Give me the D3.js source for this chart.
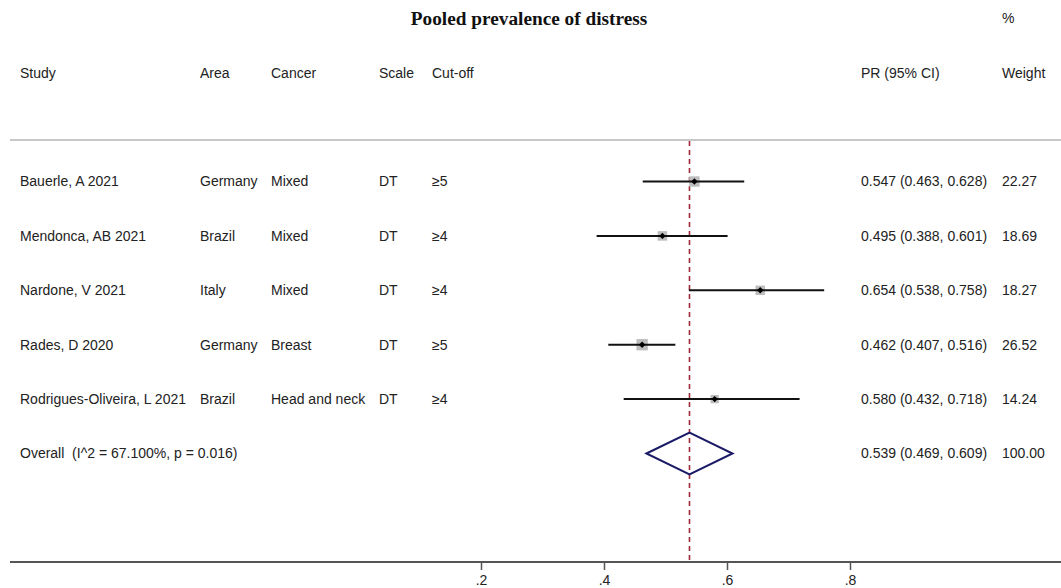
<!DOCTYPE html>
<html>
<head>
<meta charset="utf-8">
<script src="https://cdn.jsdelivr.net/npm/d3@7"></script>
<style>
  html, body { margin: 0; padding: 0; background: #fff; }
  svg text { font-family: "Liberation Sans", Arial, Helvetica, sans-serif; fill: #222; white-space: pre; }
</style>
</head>
<body>
<svg id="chart" width="1061" height="588"></svg>
<script>
// ---- data ----
const studies = ["Bauerle, A 2021", "Mendonca, AB 2021", "Nardone, V 2021", "Rades, D 2020", "Rodrigues-Oliveira, L 2021"];
const areas   = ["Germany", "Brazil", "Italy", "Germany", "Brazil"];
const cancers = ["Mixed", "Mixed", "Mixed", "Breast", "Head and neck"];
const scales  = ["DT", "DT", "DT", "DT", "DT"];
const cutoffs = ["≥5", "≥4", "≥4", "≥5", "≥4"];
const pr      = [0.547, 0.495, 0.654, 0.462, 0.580];
const lower   = [0.463, 0.388, 0.538, 0.407, 0.432];
const upper   = [0.628, 0.601, 0.758, 0.516, 0.718];
const weights = [22.27, 18.69, 18.27, 26.52, 14.24];
const overall = { label: "Overall  (I^2 = 67.100%, p = 0.016)", pr: 0.539, lo: 0.469, hi: 0.609, weight: 100.00 };
const xTicks  = [0.2, 0.4, 0.6, 0.8];
const headers = ["Study", "Area", "Cancer", "Scale", "Cut-off", "PR (95% CI)", "Weight"];
const title   = "Pooled prevalence of distress";

// ---- layout ----
const svg = d3.select("#chart");
const W = 1061;
const x = d3.scaleLinear().domain([0.2, 0.8]).range([481, 850]);
// rows: 0 header, 1 blank, 2..6 studies, 7 overall
const y = d3.scaleLinear().domain([0, 1]).range([72.7, 127.1]);
const axisY = 562;
const colX = { study: 20, area: 200, cancer: 271, scale: 379, cut: 432, pr: 861, wt: 1002 };
const fmt3 = d3.format(".3f");
const fmt2 = d3.format(".2f");

// title
svg.append("text").attr("x", 529).attr("y", 18.5).attr("dy", "0.35em")
  .attr("text-anchor", "middle")
  .style("font-family", "'Liberation Serif', 'Times New Roman', serif")
  .style("font-weight", "bold").style("font-size", "19.3px").style("fill", "#111")
  .text(title);
svg.append("text").attr("x", colX.wt).attr("y", 18.5).attr("dy", "0.35em")
  .style("font-size", "14px").text("%");

// headers
const hx = [colX.study, colX.area, colX.cancer, colX.scale, colX.cut, colX.pr, colX.wt];
headers.forEach((h, i) => {
  svg.append("text").attr("x", hx[i]).attr("y", y(0)).attr("dy", "0.35em")
    .style("font-size", "14px").text(h);
});

// separator
svg.append("line").attr("x1", 10).attr("x2", W).attr("y1", 140).attr("y2", 140)
  .attr("stroke", "#c8c8c8").attr("stroke-width", 2);

// reference dashed line
svg.append("line").attr("x1", x(overall.pr)).attr("x2", x(overall.pr))
  .attr("y1", 141).attr("y2", axisY)
  .attr("stroke", "#9e2a3a").attr("stroke-width", 1.6).attr("stroke-dasharray", "5,4");

// study rows
studies.forEach((s, i) => {
  const yy = y(i + 2);
  const cols = [[colX.study, s], [colX.area, areas[i]], [colX.cancer, cancers[i]], [colX.scale, scales[i]], [colX.cut, cutoffs[i]],
    [colX.pr, `${fmt3(pr[i])} (${fmt3(lower[i])}, ${fmt3(upper[i])})`], [colX.wt, fmt2(weights[i])]];
  cols.forEach(([cx, t]) => {
    svg.append("text").attr("x", cx).attr("y", yy).attr("dy", "0.35em").style("font-size", "14px").text(t);
  });
  const side = 2.2 * Math.sqrt(weights[i]);
  svg.append("rect").attr("x", x(pr[i]) - side / 2).attr("y", yy - side / 2)
    .attr("width", side).attr("height", side).attr("fill", "#bdbdbd");
  svg.append("line").attr("x1", x(lower[i])).attr("x2", x(upper[i])).attr("y1", yy).attr("y2", yy)
    .attr("stroke", "#111").attr("stroke-width", 2);
  const d = 3.2;
  svg.append("path")
    .attr("d", `M${x(pr[i]) - d},${yy}L${x(pr[i])},${yy - d}L${x(pr[i]) + d},${yy}L${x(pr[i])},${yy + d}Z`)
    .attr("fill", "#000");
});

// overall row
const oy = y(7);
svg.append("text").attr("x", colX.study).attr("y", oy).attr("dy", "0.35em").style("font-size", "14px").text(overall.label);
svg.append("text").attr("x", colX.pr).attr("y", oy).attr("dy", "0.35em").style("font-size", "14px")
  .text(`${fmt3(overall.pr)} (${fmt3(overall.lo)}, ${fmt3(overall.hi)})`);
svg.append("text").attr("x", colX.wt).attr("y", oy).attr("dy", "0.35em").style("font-size", "14px").text(fmt2(overall.weight));
const dh = 21;
svg.append("path")
  .attr("d", `M${x(overall.lo)},${oy}L${x(overall.pr)},${oy - dh}L${x(overall.hi)},${oy}L${x(overall.pr)},${oy + dh}Z`)
  .attr("fill", "none").attr("stroke", "#1a1a66").attr("stroke-width", 2);

// x axis
svg.append("line").attr("x1", 10).attr("x2", W).attr("y1", axisY).attr("y2", axisY)
  .attr("stroke", "#555").attr("stroke-width", 2);
const axis = d3.axisBottom(x).tickValues(xTicks).tickSize(8).tickSizeOuter(0)
  .tickFormat(v => d3.format(".1f")(v).replace(/^0/, ""));
const g = svg.append("g").attr("transform", `translate(0,${axisY})`).call(axis);
g.select(".domain").remove();
g.selectAll(".tick line").attr("stroke", "#555").attr("stroke-width", 1.5);
g.selectAll(".tick text").style("font-size", "14px").style("font-family", "'Liberation Sans', Arial, sans-serif")
  .attr("fill", "#222").attr("y", 13);
</script>
</body>
</html>
